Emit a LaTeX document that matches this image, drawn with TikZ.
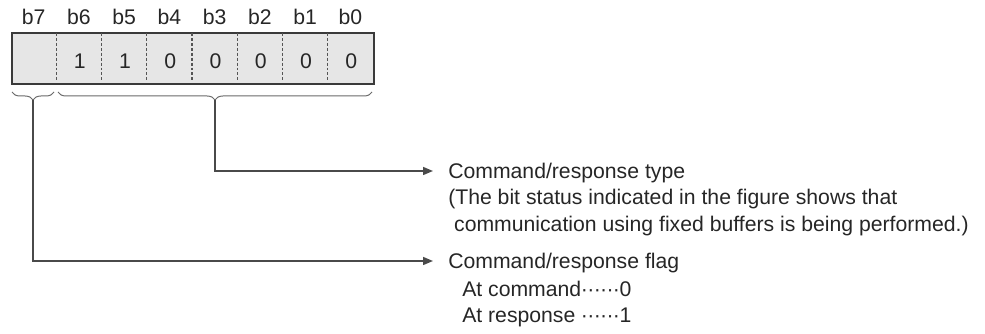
\documentclass[tikz,border=0pt]{standalone}
\usepackage{fontspec}
\setmainfont{Liberation Sans}
\usetikzlibrary{arrows.meta,decorations.pathreplacing}
\definecolor{txt}{HTML}{262626}
\definecolor{boxline}{HTML}{3A3A3A}
\definecolor{boxfill}{HTML}{E6E6E6}
\definecolor{divc}{HTML}{555555}
\definecolor{linec}{HTML}{4A4A4A}
\definecolor{bracec}{HTML}{6A6A6A}
\newcommand{\leaderdots}{\makebox[4.8pt]{·}\makebox[4.8pt]{·}\makebox[4.8pt]{·}\makebox[4.8pt]{·}\makebox[4.8pt]{·}\makebox[4.8pt]{·}}
\begin{document}
\begin{tikzpicture}[x=0.75pt,y=-0.75pt,
  lbl/.style={font=\fontsize{15.9}{19}\selectfont, text=txt, inner sep=0pt},
  regbox/.style={draw=boxline, fill=boxfill, line width=1.3pt, inner sep=0pt,
    minimum width=271.5pt, minimum height=38.25pt, anchor=north west},
  divider/.style={draw=divc, dash pattern=on 2.2pt off 1.5pt, line width=0.8pt},
  conn/.style={draw=linec, line width=1.1pt, -{Triangle[length=7.5pt,width=6pt]}},
  brc/.style={draw=bracec, line width=0.75pt, decorate, decoration={brace,mirror,amplitude=6pt}},
  head/.style={lbl, anchor=west, inner xsep=11.25pt, inner ysep=0pt, text height=11.4pt, text depth=0pt},
]
\useasboundingbox (0,0) rectangle (985,334);
% register box
\node[regbox] (reg) at (11,32) {};
\foreach \k in {1,...,7}
  \draw[divider] ({11+45.25*\k},33) -- ({11+45.25*\k},82);
% bit labels
\foreach \i/\b in {0/b7,1/b6,2/b5,3/b4,4/b3,5/b2,6/b1,7/b0}
  \node[lbl, anchor=base] (lb\i) at ({11+45.25*(\i+0.5)},25) {\b};
% bit values
\foreach \i/\v in {1/1,2/1,3/0,4/0,5/0,6/0,7/0}
  \node[lbl, anchor=base] (bv\i) at ({12+45.25*(\i+0.5)},69) {\v};
% braces
\draw[brc] (12,92) -- (54,92);
\draw[brc] (58,92) -- (372,92);
\coordinate (t7) at (33,100);
\coordinate (t3) at (215,100);
% type
\node[head] (typeT) at (433,171) {Command/response type};
\node[lbl, anchor=base west] (typeL2) at (448,205) {(The bit status indicated in the figure shows that};
\node[lbl, anchor=base west] (typeL3) at (448,232) {\ communication using fixed buffers is being performed.)};
\draw[conn] (t3) |- (typeT.west);
% flag
\node[head] (flagT) at (433,261) {Command/response flag};
\node[lbl, anchor=base west] (flagL2) at (462,297) {At command\leaderdots0};
\node[lbl, anchor=base west] (flagL3) at (462,323) {At response \leaderdots1};
\draw[conn] (t7) |- (flagT.west);
\end{tikzpicture}
\end{document}
